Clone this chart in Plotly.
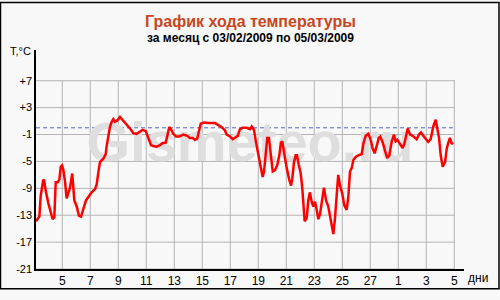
import plotly.graph_objects as go

# Day index: Feb d -> d, Mar d -> 28 + d
days = [3.12, 3.36, 3.46, 3.55, 3.64, 3.71, 3.81, 4.00, 4.24, 4.31,
        4.43, 4.53, 4.67, 4.79, 4.89, 4.98, 5.07, 5.19, 5.31, 5.43,
        5.55, 5.71, 5.79, 5.86, 6.03, 6.19, 6.34, 6.46, 6.69, 6.86,
        7.10, 7.34, 7.46, 7.57, 7.69, 7.93, 8.10, 8.17, 8.29, 8.41,
        8.53, 8.64, 8.76, 8.93, 9.12, 9.24, 9.41, 9.60, 9.71, 9.84,
        10.07, 10.31, 10.55, 10.74, 10.96, 11.14, 11.34, 11.50, 11.74, 11.98,
        12.14, 12.39, 12.50, 12.64, 12.76, 12.93, 13.12, 13.36, 13.64, 13.93,
        14.12, 14.31, 14.48, 14.64, 14.76, 14.89, 15.12, 15.43, 15.91, 16.14,
        16.39, 16.62, 16.74, 16.98, 17.17, 17.39, 17.53, 17.69, 17.89, 18.17,
        18.41, 18.53, 18.69, 18.84, 19.00, 19.17, 19.31, 19.41, 19.53, 19.64,
        19.76, 19.89, 20.03, 20.19, 20.36, 20.50, 20.62, 20.71, 20.86, 21.03,
        21.21, 21.34, 21.43, 21.55, 21.67, 21.76, 21.89, 22.03, 22.14, 22.21,
        22.31, 22.46, 22.57, 22.69, 22.81, 22.93, 23.05, 23.17, 23.29, 23.41,
        23.53, 23.69, 23.84, 24.00, 24.12, 24.24, 24.36, 24.48, 24.55, 24.64,
        24.71, 24.84, 25.00, 25.14, 25.31, 25.43, 25.55, 25.67, 25.79, 25.98,
        26.14, 26.39, 26.50, 26.67, 26.86, 27.03, 27.17, 27.31, 27.46, 27.60,
        27.71, 27.89, 28.05, 28.21, 28.36, 28.53, 28.69, 28.81, 28.93, 29.12,
        29.31, 29.43, 29.55, 29.67, 29.84, 30.03, 30.19, 30.31, 30.48, 30.62,
        30.79, 30.98, 31.14, 31.31, 31.50, 31.67, 31.79, 31.91, 32.03, 32.17,
        32.34, 32.46, 32.57, 32.69, 32.81, 32.93]

temps = [-13.9, -13.2, -10.1, -8.4, -7.7, -7.9, -9.3, -11.2, -13.1, -13.6,
         -13.3, -8.1, -8.1, -7.7, -5.8, -5.6, -6.2, -7.9, -10.5, -9.8,
         -8.9, -6.8, -8.6, -10.8, -11.7, -13.1, -13.2, -12.4, -10.8, -10.3,
         -9.6, -9.1, -8.4, -6.7, -5.1, -4.6, -3.9, -2.7, -1.2, 0.2,
         0.9, 1.3, 0.9, 1.1, 1.6, 1.3, 0.8, 0.4, 0.2, -0.1,
         -0.8, -0.9, -0.5, -0.3, -0.5, -1.5, -2.6, -2.7, -2.8, -2.6,
         -2.3, -2.2, -1.2, 0.1, -0.2, -0.9, -1.3, -1.3, -1.0, -1.2,
         -1.5, -1.5, -1.8, -1.6, -0.5, 0.6, 0.8, 0.7, 0.7, 0.4,
         0.1, -0.4, -1.0, -1.3, -1.7, -1.4, -1.2, -0.2, 0.0, 0.0,
         -0.2, 0.2, -0.3, -2.2, -4.1, -6.2, -7.3, -6.5, -3.1, -1.5,
         -1.5, -4.1, -6.5, -6.3, -5.5, -4.1, -2.2, -2.0, -4.1, -6.0,
         -7.7, -8.6, -7.5, -5.1, -4.1, -4.1, -5.5, -6.8, -8.9, -10.8,
         -13.9, -13.4, -10.8, -9.6, -11.0, -11.7, -11.0, -12.2, -13.6, -12.8,
         -10.8, -8.9, -10.8, -11.7, -13.1, -14.6, -15.8, -13.4, -10.8, -8.9,
         -7.0, -8.6, -9.8, -11.5, -12.2, -10.3, -6.5, -6.0, -4.8, -4.3,
         -4.1, -3.9, -2.4, -1.2, -0.9, -1.8, -3.1, -3.8, -2.7, -1.5,
         -1.3, -2.2, -3.4, -4.5, -4.1, -2.0, -1.0, -2.0, -1.8, -2.4,
         -3.0, -2.4, -1.0, -0.1, -1.0, -1.2, -1.5, -1.7, -1.0, -0.7,
         -1.2, -1.7, -2.1, -1.7, 0.2, 1.2, -0.1, -1.5, -4.1, -5.8,
         -5.1, -3.1, -2.2, -1.5, -2.3, -2.4]

x_ticks = [5, 7, 9, 11, 13, 15, 17, 19, 21, 23, 25, 27, 29, 31, 33]
x_labels = ["5", "7", "9", "11", "13", "15", "17", "19", "21", "23", "25", "27", "1", "3", "5"]
y_ticks = [-21, -17, -13, -9, -5, -1, 3, 7]
y_labels = ["-21", "-17", "-13", "-9", "-5", "-1", "+3", "+7"]

FONT = "Liberation Sans, Arial, sans-serif"
GRID = "#b4b4b4"
ML, MR, MT, MB = 36, 36, 50, 22
W, H = 500, 300
PW, PH = W - ML - MR, H - MT - MB
X0 = 5 - (62.3 - ML) / 14.0
X1 = X0 + PW / 14.0
XG = 33.05  # right edge of grid

def px(x):
    return (x - ML) / PW

def py(y):
    return (H - MB - y) / PH

def dx(x):
    return X0 + (x - ML) / 14.0

def dy(y):
    return -21 + (H - MB - y) / 7.0

fig = go.Figure()

shapes = []
for yv in y_ticks:
    shapes.append(dict(type="line", xref="x", yref="y", x0=X0, x1=XG, y0=yv, y1=yv,
                       line=dict(color=GRID, width=1), layer="below"))
for xv in x_ticks:
    shapes.append(dict(type="line", xref="x", yref="y", x0=xv, x1=xv, y0=-21, y1=7,
                       line=dict(color=GRID, width=1), layer="below"))
shapes.append(dict(type="line", xref="x", yref="y", x0=X0, x1=XG, y0=0, y1=0,
                   line=dict(color="#5566cc", width=1, dash="4px,3px"), layer="below"))
shapes.append(dict(type="rect", xref="paper", yref="paper",
                   x0=px(0.5), x1=px(W - 1), y0=py(H - 1.5), y1=py(0.5),
                   line=dict(color="black", width=1.5), fillcolor="rgba(0,0,0,0)"))

# watermark (below the data line)
fig.add_trace(go.Scatter(x=[dx(250)], y=[dy(151)], mode="text", text=["<b>Gismeteo.ru</b>"],
                         textposition="middle center",
                         textfont=dict(family=FONT, size=56, color="#dedede"),
                         hoverinfo="skip", showlegend=False, cliponaxis=False))

fig.add_trace(go.Scatter(x=days, y=temps, mode="lines",
                         line=dict(color="#ff0000", width=2.5),
                         hoverinfo="skip", showlegend=False, cliponaxis=True))

annotations = [
    dict(text="<b>График хода температуры</b>", x=px(250), y=py(20), xref="paper", yref="paper",
         showarrow=False, font=dict(family=FONT, size=16, color="#c8461e"),
         xanchor="center", yanchor="middle"),
    dict(text="<b>за месяц с 03/02/2009 по 05/03/2009</b>", x=px(250), y=py(37.5),
         xref="paper", yref="paper", showarrow=False,
         font=dict(family=FONT, size=12, color="black"),
         xanchor="center", yanchor="middle"),
    dict(text="T,°C", x=px(8), y=py(51), xref="paper", yref="paper",
         showarrow=False, font=dict(family=FONT, size=11, color="black"),
         xanchor="left", yanchor="middle"),
    dict(text="дни", x=px(466), y=py(287), xref="paper", yref="paper",
         showarrow=False, font=dict(family=FONT, size=12, color="black"),
         xanchor="left", yanchor="middle"),
]

fig.update_layout(
    width=W, height=H,
    margin=dict(l=ML, r=MR, t=MT, b=MB, pad=0),
    paper_bgcolor="#f8f8f8", plot_bgcolor="#f8f8f8",
    shapes=shapes, annotations=annotations,
    font=dict(family=FONT, size=11, color="black"),
    xaxis=dict(range=[X0, X1], tickvals=x_ticks, ticktext=x_labels,
               showgrid=False, zeroline=False, showline=True, linecolor="black",
               linewidth=1.5, ticks="", tickfont=dict(size=12)),
    yaxis=dict(range=[-21, -21 + PH / 7.0], tickvals=y_ticks, ticktext=y_labels,
               showgrid=False, zeroline=False, showline=True, linecolor="black",
               linewidth=1.5, ticks="", tickfont=dict(size=11)),
)

fig.write_html("out.html")
